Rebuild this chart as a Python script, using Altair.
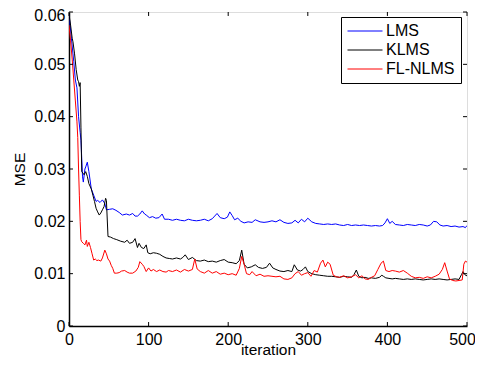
import altair as alt
import pandas as pd

# ---- data ----
lms_iter = [0, 3, 6, 8, 10, 12, 14, 15, 17, 18, 20, 21, 23, 25, 28, 31, 34, 36, 39, 42, 45, 47, 51, 55, 59, 63, 67, 72, 76, 80, 83, 86, 89, 92, 95, 97, 101, 105, 109, 113, 117, 120,
            125, 130, 135, 140, 145, 150, 155, 160, 165, 170, 175, 180, 183, 186, 190, 195, 199, 202, 205, 208, 212, 216, 220, 225, 230, 234, 240, 245, 250, 255, 260, 265, 270, 275, 280, 284, 288, 292, 296, 300,
            305, 310, 315, 320, 325, 330, 335, 340, 345, 350, 355, 360, 365, 370, 375, 380, 385, 390, 394, 397, 400, 403, 406, 410, 415, 420, 425, 430, 435, 440, 445, 450, 454, 458, 462, 466, 470, 475, 480, 485, 490, 495, 498, 500]
lms_mse = [0.0595, 0.0550, 0.0505, 0.0470, 0.0455, 0.0400, 0.0370, 0.0355, 0.0285, 0.0275, 0.0300, 0.0304, 0.0313, 0.0295, 0.0262, 0.0250, 0.0238, 0.0240, 0.0236, 0.0241, 0.0234, 0.0222, 0.0223, 0.0224, 0.0221, 0.0217, 0.0212, 0.0214, 0.0212, 0.0215, 0.0210, 0.0210, 0.0214, 0.0220, 0.0214, 0.0212, 0.0207, 0.0209, 0.0206, 0.0207, 0.0214, 0.0204,
           0.0204, 0.0202, 0.0204, 0.0202, 0.0201, 0.0204, 0.0202, 0.0201, 0.0202, 0.0204, 0.0201, 0.0205, 0.0210, 0.0215, 0.0207, 0.0205, 0.0208, 0.0218, 0.0211, 0.0203, 0.0206, 0.0200, 0.0197, 0.0199, 0.0198, 0.0203, 0.0199, 0.0198, 0.0199, 0.0201, 0.0199, 0.0203, 0.0198, 0.0196, 0.0197, 0.0202, 0.0197, 0.0204, 0.0199, 0.0206, 0.0199,
           0.0196, 0.0195, 0.0194, 0.0195, 0.0194, 0.0195, 0.0193, 0.0192, 0.0194, 0.0192, 0.0193, 0.0192, 0.0193, 0.0192, 0.0191, 0.0192, 0.0191, 0.0192, 0.0197, 0.0205, 0.0196, 0.0200, 0.0194, 0.0193, 0.0192, 0.0194, 0.0193, 0.0192, 0.0194, 0.0193, 0.0191, 0.0193, 0.0200, 0.0199, 0.0193, 0.0191, 0.0192, 0.0190, 0.0191, 0.0189, 0.0190, 0.0188, 0.0192, 0.0191]

klms_iter = [0, 2, 4, 5, 7, 9, 11, 12, 13, 14, 15, 16, 19, 21, 23, 25, 28, 30, 32, 34, 36, 38, 40, 42, 44, 46, 47, 49, 52, 56, 60, 65, 70, 73, 76, 80, 83, 86, 88, 91, 94, 97, 99, 102, 106, 110, 114, 118, 122,
             126, 130, 135, 140, 143, 146, 150, 155, 160, 165, 170, 175, 180, 185, 190, 195, 200, 205, 210, 214, 217, 220, 224, 229, 234, 238, 243, 248, 252, 256, 260, 265, 270, 275, 280, 283, 287, 291, 294, 297, 300,
             305, 310, 315, 320, 325, 330, 335, 340, 345, 350, 355, 358, 361, 364, 368, 372, 376, 380, 385, 390, 393, 395, 398, 402, 406, 410, 415, 420, 425, 430, 435, 440, 445, 450, 455, 460, 465, 470, 475, 480, 485, 490, 493, 495, 498, 500]
klms_mse = [0.0595, 0.0575, 0.0550, 0.0543, 0.0520, 0.0490, 0.0470, 0.0467, 0.0458, 0.0465, 0.0380, 0.0295, 0.0289, 0.0295, 0.0286, 0.0272, 0.0262, 0.0250, 0.0238, 0.0225, 0.0218, 0.0212, 0.0216, 0.0222, 0.0228, 0.0244, 0.0240, 0.0171, 0.0170, 0.0167, 0.0165, 0.0162, 0.0160, 0.0164, 0.0158, 0.0160, 0.0167, 0.0150, 0.0158, 0.0150, 0.0148, 0.0155, 0.0140, 0.0138, 0.0140, 0.0139, 0.0137, 0.0133, 0.0130,
            0.0129, 0.0128, 0.0130, 0.0128, 0.0131, 0.0136, 0.0127, 0.0131, 0.0125, 0.0124, 0.0126, 0.0123, 0.0124, 0.0122, 0.0125, 0.0127, 0.0122, 0.0121, 0.0119, 0.0125, 0.0145, 0.0118, 0.0111, 0.0113, 0.0117, 0.0112, 0.0110, 0.0112, 0.0120, 0.0111, 0.0108, 0.0105, 0.0104, 0.0106, 0.0104, 0.0117, 0.0107, 0.0105, 0.0108, 0.0113, 0.0104,
            0.0100, 0.0098, 0.0097, 0.0096, 0.0095, 0.0095, 0.0094, 0.0093, 0.0095, 0.0094, 0.0093, 0.0098, 0.0107, 0.0095, 0.0092, 0.0093, 0.0091, 0.0092, 0.0091, 0.0093, 0.0097, 0.0095, 0.0092, 0.0091, 0.0090, 0.0091, 0.0090, 0.0089, 0.0090, 0.0089, 0.0090, 0.0089, 0.0088, 0.0089, 0.0090, 0.0089, 0.0090, 0.0089, 0.0088, 0.0089, 0.0090, 0.0089, 0.0098, 0.0104, 0.0097, 0.0096]

flnlms_iter = [0, 2, 4, 6, 8, 10, 11, 12, 13, 14, 15, 16, 18, 20, 22, 23, 25, 27, 29, 31, 33, 35, 37, 40, 42, 45, 47, 49, 51, 53, 55, 57, 60, 63, 66, 70, 73, 76, 80, 84, 87, 89, 92, 94, 97, 100, 103, 106, 110, 114, 118, 122,
               125, 130, 135, 140, 145, 150, 155, 158, 161, 165, 170, 175, 180, 185, 190, 195, 200, 205, 210, 214, 217, 220, 223, 227, 230, 235, 240, 245, 250, 255, 260, 265, 270, 275, 280, 284, 288, 292, 296, 300, 304, 308, 312, 316, 319, 322, 325, 328,
               332, 336, 340, 345, 350, 355, 360, 364, 368, 372, 376, 380, 384, 388, 392, 395, 398, 402, 406, 410, 415, 420, 425, 430, 435, 440, 445, 450, 455, 460, 465, 469, 472, 475, 478, 482, 486, 490, 494, 496, 498, 500]
flnlms_mse = [0.0575, 0.0545, 0.0510, 0.0470, 0.0430, 0.0390, 0.0360, 0.0300, 0.0250, 0.0200, 0.0165, 0.0161, 0.0158, 0.0155, 0.0164, 0.0152, 0.0160, 0.0150, 0.0138, 0.0126, 0.0128, 0.0125, 0.0126, 0.0124, 0.0130, 0.0145, 0.0138, 0.0128, 0.0124, 0.0116, 0.0110, 0.0101, 0.0101, 0.0102, 0.0105, 0.0106, 0.0103, 0.0101, 0.0101, 0.0105, 0.0112, 0.0123, 0.0118, 0.0114, 0.0104, 0.0111, 0.0105, 0.0108, 0.0104, 0.0107, 0.0104, 0.0103,
              0.0106, 0.0104, 0.0107, 0.0103, 0.0108, 0.0105, 0.0108, 0.0128, 0.0109, 0.0104, 0.0101, 0.0106, 0.0101, 0.0104, 0.0099, 0.0101, 0.0098, 0.0100, 0.0097, 0.0110, 0.0133, 0.0118, 0.0100, 0.0098, 0.0104, 0.0096, 0.0099, 0.0095, 0.0096, 0.0095, 0.0094, 0.0095, 0.0090, 0.0089, 0.0092, 0.0100, 0.0104, 0.0097, 0.0100, 0.0102, 0.0095, 0.0106, 0.0103, 0.0120, 0.0126, 0.0113, 0.0122, 0.0118,
              0.0097, 0.0094, 0.0093, 0.0096, 0.0092, 0.0094, 0.0098, 0.0092, 0.0096, 0.0090, 0.0089, 0.0093, 0.0096, 0.0108, 0.0120, 0.0124, 0.0106, 0.0104, 0.0106, 0.0105, 0.0103, 0.0106, 0.0101, 0.0095, 0.0092, 0.0093, 0.0091, 0.0094, 0.0092, 0.0095, 0.0099, 0.0108, 0.0121, 0.0105, 0.0090, 0.0087, 0.0086, 0.0087, 0.0088, 0.0118, 0.0124, 0.0122]

series_names = ["LMS", "KLMS", "FL-NLMS"]
series_colors = ["#0000ff", "#000000", "#ff0000"]
x_ticks = [0, 100, 200, 300, 400, 500]
y_ticks = [0, 0.01, 0.02, 0.03, 0.04, 0.05, 0.06]

# ---- build tables ----
rows = []
for name, xs, ys in zip(series_names, [lms_iter, klms_iter, flnlms_iter], [lms_mse, klms_mse, flnlms_mse]):
    for i, (a, b) in enumerate(zip(xs, ys)):
        rows.append({"series": name, "iter": a, "mse": b, "order": i})
df = pd.DataFrame(rows)

xt = pd.DataFrame({"t": x_ticks})
yt = pd.DataFrame({"t": y_ticks})

FONT = "Liberation Sans"
xscale = alt.Scale(domain=[0, 500], nice=False, zero=False)
yscale = alt.Scale(domain=[0, 0.06], nice=False, zero=False)

lines = alt.Chart(df).mark_line(strokeWidth=1, clip=True).encode(
    x=alt.X("iter:Q", scale=xscale,
            axis=alt.Axis(title="iteration", values=x_ticks, tickSize=0, labelPadding=5,
                          labelOffset={"condition": {"test": "datum.value >= 500", "value": -5}, "value": 0},
                          grid=False, domainColor="black", domainWidth=1.5,
                          labelFont=FONT, labelFontSize=16, labelColor="black",
                          titleFont=FONT, titleFontSize=15.5, titleFontWeight="normal",
                          titleColor="black", titlePadding=-5, labelFlush=False)),
    y=alt.Y("mse:Q", scale=yscale,
            axis=alt.Axis(title="MSE", values=y_ticks, tickSize=0, labelPadding=4,
                          labelExpr="datum.value == 0 ? '0' : format(datum.value, '.2f')",
                          labelOffset={"condition": {"test": "datum.value >= 0.0599", "value": 3}, "value": 0},
                          grid=False, domainColor="black", domainWidth=1.5,
                          labelFont=FONT, labelFontSize=16, labelColor="black",
                          titleFont=FONT, titleFontSize=15.5, titleFontWeight="normal",
                          titleColor="black", titlePadding=6)),
    color=alt.Color("series:N",
                    scale=alt.Scale(domain=series_names, range=series_colors),
                    sort=series_names,
                    legend=alt.Legend(title=None, orient="none", legendX=272, legendY=5,
                                      symbolType="stroke", symbolSize=1225, symbolStrokeWidth=1,
                                      clipHeight=16,
                                      labelFont=FONT, labelFontSize=16, labelColor="black",
                                      labelOffset=3, padding=6, rowPadding=3,
                                      strokeColor="black", fillColor="white")),
    order="order:Q",
)

tick_len_y = 0.00076
tick_len_x = 5
bottom_ticks = alt.Chart(xt).mark_rule(color="black", strokeWidth=1).encode(
    x=alt.X("t:Q", scale=xscale), y=alt.datum(0), y2=alt.datum(tick_len_y))
top_ticks = alt.Chart(xt).mark_rule(color="black", strokeWidth=1).encode(
    x=alt.X("t:Q", scale=xscale), y=alt.datum(0.06), y2=alt.datum(0.06 - tick_len_y))
left_ticks = alt.Chart(yt).mark_rule(color="black", strokeWidth=1).encode(
    y=alt.Y("t:Q", scale=yscale), x=alt.datum(0), x2=alt.datum(tick_len_x))
right_ticks = alt.Chart(yt).mark_rule(color="black", strokeWidth=1).encode(
    y=alt.Y("t:Q", scale=yscale), x=alt.datum(500), x2=alt.datum(500 - tick_len_x))

chart = alt.layer(lines, bottom_ticks, top_ticks, left_ticks, right_ticks).properties(
    width=398, height=314,
    autosize=alt.AutoSizeParams(type="none"),
    padding={"left": 61, "top": 4, "right": 8, "bottom": 33},
).configure_view(stroke="black", strokeWidth=1).configure(background="white")

chart.save("out.html", embed_options={"renderer": "svg", "actions": False})
